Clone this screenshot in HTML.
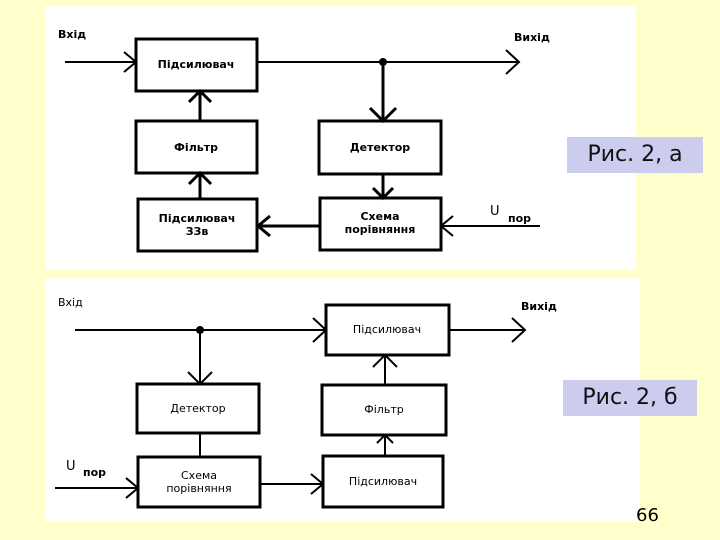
<!DOCTYPE html><html><head><meta charset="utf-8"><style>
body{margin:0;width:720px;height:540px;background:#ffffcc;position:relative;overflow:hidden;font-family:"DejaVu Sans","Liberation Sans",sans-serif}
.p{position:absolute;background:#fff}
.lab{position:absolute;background:#ccccee;font-size:22px;color:#111;text-align:center;line-height:36px}
svg{position:absolute;left:0;top:0}
text{font-family:"DejaVu Sans",sans-serif;font-size:11px;fill:#000}
.b text{font-weight:bold}
</style></head><body>
<div class="p" style="left:45px;top:6px;width:591px;height:264px"></div>
<div class="p" style="left:45px;top:278px;width:595px;height:244px"></div>
<div class="lab" style="left:567px;top:137px;width:136px;height:36px">Рис. 2, а</div>
<div class="lab" style="left:563px;top:380px;width:134px;height:36px">Рис. 2, б</div>
<svg width="720" height="540" fill="none" stroke="#000" stroke-width="3">
<g>
<rect x="136" y="39" width="121" height="52"/>
<rect x="136" y="121" width="121" height="52"/>
<rect x="138" y="199" width="119" height="52"/>
<rect x="319" y="121" width="122" height="53"/>
<rect x="320" y="198" width="121" height="52"/>
<path d="M65 62H136M124 52L136 62L124 72" stroke-width="2"/>
<path d="M257 62H519M506 50L519 62L506 74" stroke-width="2"/>
<path d="M383 62V121M370 108L383 121L396 108"/>
<path d="M383 174V198M373 188L383 198L393 188"/>
<path d="M540 226H441M453 216L441 226L453 236" stroke-width="2"/>
<path d="M320 226H258M270 216L258 226L270 236"/>
<path d="M200 199V173M189 184L200 173L211 184"/>
<path d="M200 121V91M189 102L200 91L211 102"/>
<circle cx="383" cy="62" r="2.5" fill="#000"/>
</g>
<g>
<rect x="326" y="305" width="123" height="50"/>
<rect x="137" y="384" width="122" height="49"/>
<rect x="322" y="385" width="124" height="50"/>
<rect x="138" y="457" width="122" height="50"/>
<rect x="323" y="456" width="120" height="51"/>
<path d="M75 330H326M313 318L326 330L313 342" stroke-width="2"/>
<path d="M449 330H525M512 318L525 330L512 342" stroke-width="2"/>
<path d="M200 330V384M188 372L200 384L212 372" stroke-width="2"/>
<path d="M200 433V457" stroke-width="2"/>
<path d="M55 488H138M126 478L138 488L126 498" stroke-width="2"/>
<path d="M260 484H323M311 474L323 484L311 494" stroke-width="2"/>
<path d="M385 456V435M377 443L385 435L393 443" stroke-width="2"/>
<path d="M385 385V355M373 367L385 355L397 367" stroke-width="2"/>
<circle cx="200" cy="330" r="2.5" fill="#000"/>
</g>
</svg>
<svg width="720" height="540">
<g class="b">
<text x="58" y="38">Вхід</text>
<text x="514" y="41">Вихід</text>
<text x="196" y="68" text-anchor="middle">Підсилювач</text>
<text x="196" y="151" text-anchor="middle">Фільтр</text>
<text x="197" y="222" text-anchor="middle">Підсилювач</text>
<text x="197" y="235" text-anchor="middle">ЗЗв</text>
<text x="380" y="151" text-anchor="middle">Детектор</text>
<text x="380" y="220" text-anchor="middle">Схема</text>
<text x="380" y="233" text-anchor="middle">порівняння</text>
<text x="508" y="222">пор</text>
</g>
<text x="490" y="215" style="font-size:13px">U</text>
<text x="58" y="306">Вхід</text>
<text x="521" y="310" font-weight="bold">Вихід</text>
<text x="387" y="333" text-anchor="middle">Підсилювач</text>
<text x="198" y="412" text-anchor="middle">Детектор</text>
<text x="384" y="413" text-anchor="middle">Фільтр</text>
<text x="199" y="479" text-anchor="middle">Схема</text>
<text x="199" y="492" text-anchor="middle">порівняння</text>
<text x="383" y="485" text-anchor="middle">Підсилювач</text>
<text x="66" y="470" style="font-size:13px">U</text><text x="83" y="476" font-weight="bold">пор</text>
<text x="636" y="521" style="font-size:18px">66</text>
</svg>
</body></html>
